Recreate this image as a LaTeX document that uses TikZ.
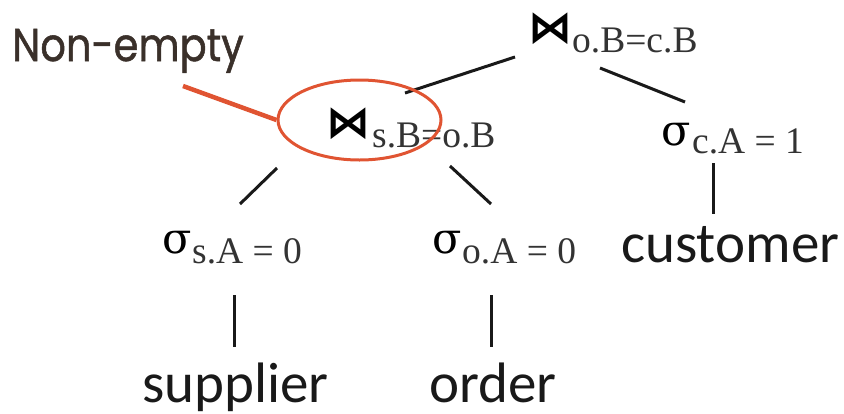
\documentclass[tikz,border=0pt]{standalone}
\usepackage{fontspec}
\usetikzlibrary{shapes.geometric}
\setmainfont{Carlito}
\newfontfamily\labfont{Poppins}[FakeBold=1.2]
\newfontfamily\subfont{Liberation Serif}
\newfontfamily\symfont{DejaVu Serif}
\newfontfamily\bowfont{DejaVu Sans}
\definecolor{callred}{RGB}{224,84,50}
\definecolor{labtext}{RGB}{58,48,42}
\tikzset{
  edge/.style={line width=3pt, black!90},
  rel/.style={anchor=base west, inner sep=0pt, font=\fontsize{57}{62}\selectfont, text=black!90},
  opsym/.style={anchor=base west, inner sep=0pt},
  bowsym/.style={opsym, font=\bowfont\bfseries\fontsize{44}{48}\selectfont},
  sigsym/.style={opsym, font=\symfont\fontsize{43}{46}\selectfont},
  opsub/.style={anchor=base west, inner sep=0pt, font=\subfont\fontsize{37.5}{40}\selectfont, text=black!80},
}
\begin{document}
\begin{tikzpicture}[x=1pt,y=-1pt]
\useasboundingbox (0,0) rectangle (844,413);
% callout
\node[anchor=base west, inner sep=0pt, text=labtext, font=\labfont\fontsize{46}{50}\selectfont] (lab) at (12,61) {\scalebox{0.87}[1]{Non-empty}};
% operators
\node[bowsym] (j1) at (528,42) {⋈};
\node[opsub] (j1s) at (572,52) {o.B=c.B};
\node[bowsym] (j2) at (326,137) {⋈};
\node[opsub] (j2s) at (372,147) {s.B=o.B};
\node[sigsym] (sc) at (661,145) {σ};
\node[opsub] (scs) at (692,153) {c.A = 1};
\node[sigsym] (ss) at (162,253) {σ};
\node[opsub] (sss) at (192,263) {s.A = 0};
\node[sigsym] (so) at (432,253) {σ};
\node[opsub] (sos) at (462,263) {o.A = 0};
% relations
\node[rel] (sup) at (142,402) {supplier};
\node[rel] (ord) at (429,402) {order};
\node[rel] (cus) at (621,262) {customer};
% connector end points
\coordinate (a1) at (405,93);  \coordinate (a2) at (515,57);
\coordinate (b1) at (600,68);  \coordinate (b2) at (685,102);
\coordinate (c1) at (277,168); \coordinate (c2) at (240,204);
\coordinate (d1) at (450,166); \coordinate (d2) at (491,204);
\coordinate (e1) at (713,163); \coordinate (e2) at (713,214);
\coordinate (f1) at (234,295); \coordinate (f2) at (234,347);
\coordinate (g1) at (491,295); \coordinate (g2) at (491,347);
\draw[edge] (a1) -- (a2);
\draw[edge] (b1) -- (b2);
\draw[edge] (c1) -- (c2);
\draw[edge] (d1) -- (d2);
\draw[edge] (e1) -- (e2);
\draw[edge] (f1) -- (f2);
\draw[edge] (g1) -- (g2);
% highlight
\node[draw=callred, line width=3pt, ellipse, minimum width=163pt, minimum height=80pt, inner sep=0pt] (ell) at (359.5,120) {};
\coordinate (p1) at (183,86);
\draw[callred, line width=4.5pt] (p1) -- (ell.west);
\end{tikzpicture}
\end{document}
